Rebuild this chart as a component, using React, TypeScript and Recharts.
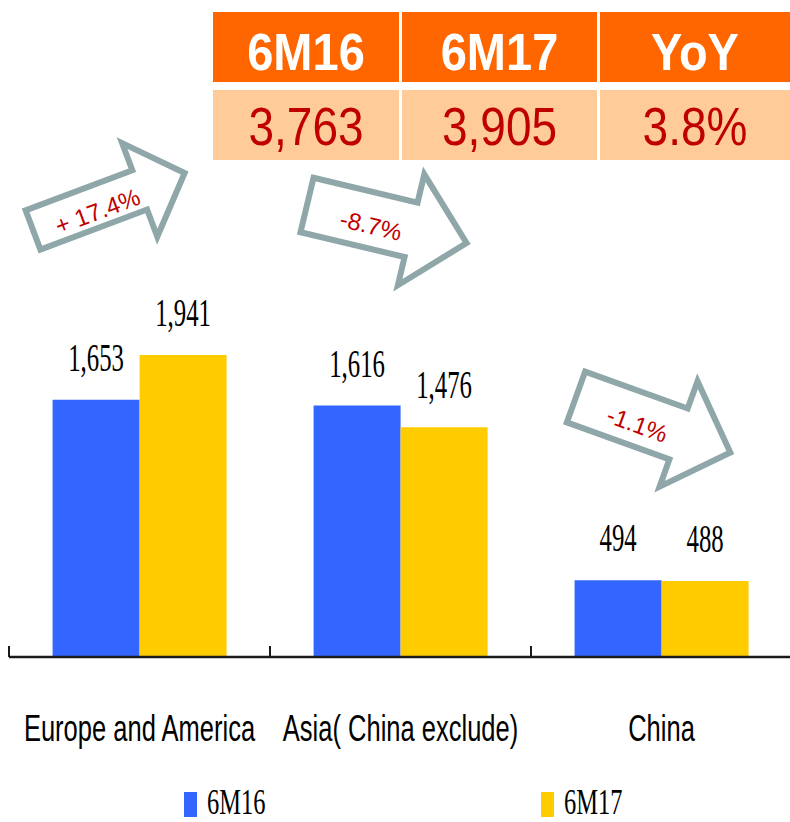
import { Bar, BarChart, LabelList, Legend, XAxis, YAxis } from 'recharts';

const categories = ['Europe and America', 'Asia( China exclude)', 'China'];
const sales6M16 = [1653, 1616, 494];
const sales6M17 = [1941, 1476, 488];
const regionYoY = ['+ 17.4%', '-8.7%', '-1.1%'];
const totalHeaders = ['6M16', '6M17', 'YoY'];
const totalValues = ['3,763', '3,905', '3.8%'];

const data = categories.map((name, i) => ({ name, m16: sales6M16[i], m17: sales6M17[i] }));

// arrow callouts: tail centre, angle, length, half widths, neck position
const arrowShapes = [
  { x: 33, y: 230, angle: -20.6, len: 162, shaft: 21, head: 50, neck: 114 },
  { x: 307, y: 205, angle: 13.4, len: 164, shaft: 28, head: 57, neck: 107 },
  { x: 576, y: 397, angle: 19.8, len: 164, shaft: 27, head: 56, neck: 109 },
];

const tableCols = [
  { x: 213, w: 186 },
  { x: 402, w: 195 },
  { x: 600, w: 190 },
];

const SANS = "'Liberation Sans', Arial, sans-serif";
const SERIF = "'Liberation Serif', 'Times New Roman', serif";

const ValueLabel = (props: any) => {
  const { x, y, width, value } = props;
  const cx = Number(x) + Number(width) / 2;
  return (
    <text
      transform={`translate(${cx},${Number(y) - 29}) scale(0.62,1)`}
      textAnchor="middle"
      fontFamily={SERIF}
      fontSize={40}
      fill="#000">
      {Number(value).toLocaleString('en-US')}
    </text>
  );
};

const CategoryTick = (props: any) => {
  const { x, y, payload } = props;
  const left = x - (payload?.offset ?? 130.5);
  return (
    <g>
      <line x1={left} x2={left} y1={y} y2={y - 11} stroke="#1a1a1a" strokeWidth={2} />
      <text
        transform={`translate(${x},${y + 84}) scale(0.69,1)`}
        textAnchor="middle"
        fontFamily={SANS}
        fontSize={37}
        fill="#000">
        {payload.value}
      </text>
    </g>
  );
};

const LegendContent = ({ payload }: any) => (
  <svg width={790} height={44} style={{ display: 'block' }}>
    {(payload || []).map((p: any, i: number) => {
      const left = 184 + i * 357;
      return (
        <g key={i}>
          <rect x={left} y={14} width={13} height={25} fill={p.color} />
          <text
            transform={`translate(${left + 23},36) scale(0.68,1)`}
            fontFamily={SERIF}
            fontSize={36}
            fill="#000">
            {p.value}
          </text>
        </g>
      );
    })}
  </svg>
);

function Overlay() {
  return (
    <svg
      width={790}
      height={822}
      style={{ position: 'absolute', left: 0, top: 0, pointerEvents: 'none' }}>
      {tableCols.map((c, i) => (
        <g key={i}>
          <rect x={c.x} y={12} width={c.w} height={70} fill="#FF6600" />
          <rect x={c.x} y={90} width={c.w} height={70} fill="#FFCC99" />
          <text
            transform={`translate(${c.x + c.w / 2},70) scale(1,1.1)`}
            textAnchor="middle"
            fontFamily={SANS}
            fontWeight="bold"
            fontSize={47}
            fill="#fff">
            {totalHeaders[i]}
          </text>
          <text
            transform={`translate(${c.x + c.w / 2},145) scale(1,1.15)`}
            textAnchor="middle"
            fontFamily={SANS}
            fontSize={46}
            fill="#C00000">
            {totalValues[i]}
          </text>
        </g>
      ))}
      {arrowShapes.map((a, i) => {
        const pts = [
          [0, -a.shaft],
          [a.neck, -a.shaft],
          [a.neck, -a.head],
          [a.len, 0],
          [a.neck, a.head],
          [a.neck, a.shaft],
          [0, a.shaft],
        ]
          .map((p) => p.join(','))
          .join(' ');
        return (
          <g key={i} transform={`translate(${a.x},${a.y}) rotate(${a.angle})`}>
            <polygon points={pts} fill="#fff" stroke="#8FA7A8" strokeWidth={6} strokeLinejoin="miter" />
            <text
              x={67}
              y={5}
              textAnchor="middle"
              dominantBaseline="central"
              fontFamily={SANS}
              fontSize={24}
              fill="#C00000">
              {regionYoY[i]}
            </text>
          </g>
        );
      })}
    </svg>
  );
}

export default function App() {
  return (
    <div
      style={{
        position: 'absolute',
        left: 0,
        top: 0,
        width: 790,
        height: 822,
        overflow: 'hidden',
        background: '#fff',
      }}>
      <BarChart
        width={792}
        height={822}
        data={data}
        margin={{ top: 268, right: 0, bottom: 0, left: 9 }}
        barCategoryGap="16.7%"
        barGap={0}>
        <XAxis
          dataKey="name"
          height={165}
          interval={0}
          tickLine={false}
          tickSize={0}
          tickMargin={0}
          axisLine={{ stroke: '#1a1a1a', strokeWidth: 2.5 }}
          tick={<CategoryTick />}
        />
        <YAxis hide domain={[0, 2500]} />
        <Legend
          verticalAlign="middle"
          layout="horizontal"
          align="center"
          wrapperStyle={{ top: 778, left: 0, width: 790 }}
          content={<LegendContent />}
        />
        <Bar dataKey="m16" name="6M16" fill="#3366FF" isAnimationActive={false}>
          <LabelList dataKey="m16" content={<ValueLabel />} />
        </Bar>
        <Bar dataKey="m17" name="6M17" fill="#FFCC00" isAnimationActive={false}>
          <LabelList dataKey="m17" content={<ValueLabel />} />
        </Bar>
      </BarChart>
      <Overlay />
    </div>
  );
}
